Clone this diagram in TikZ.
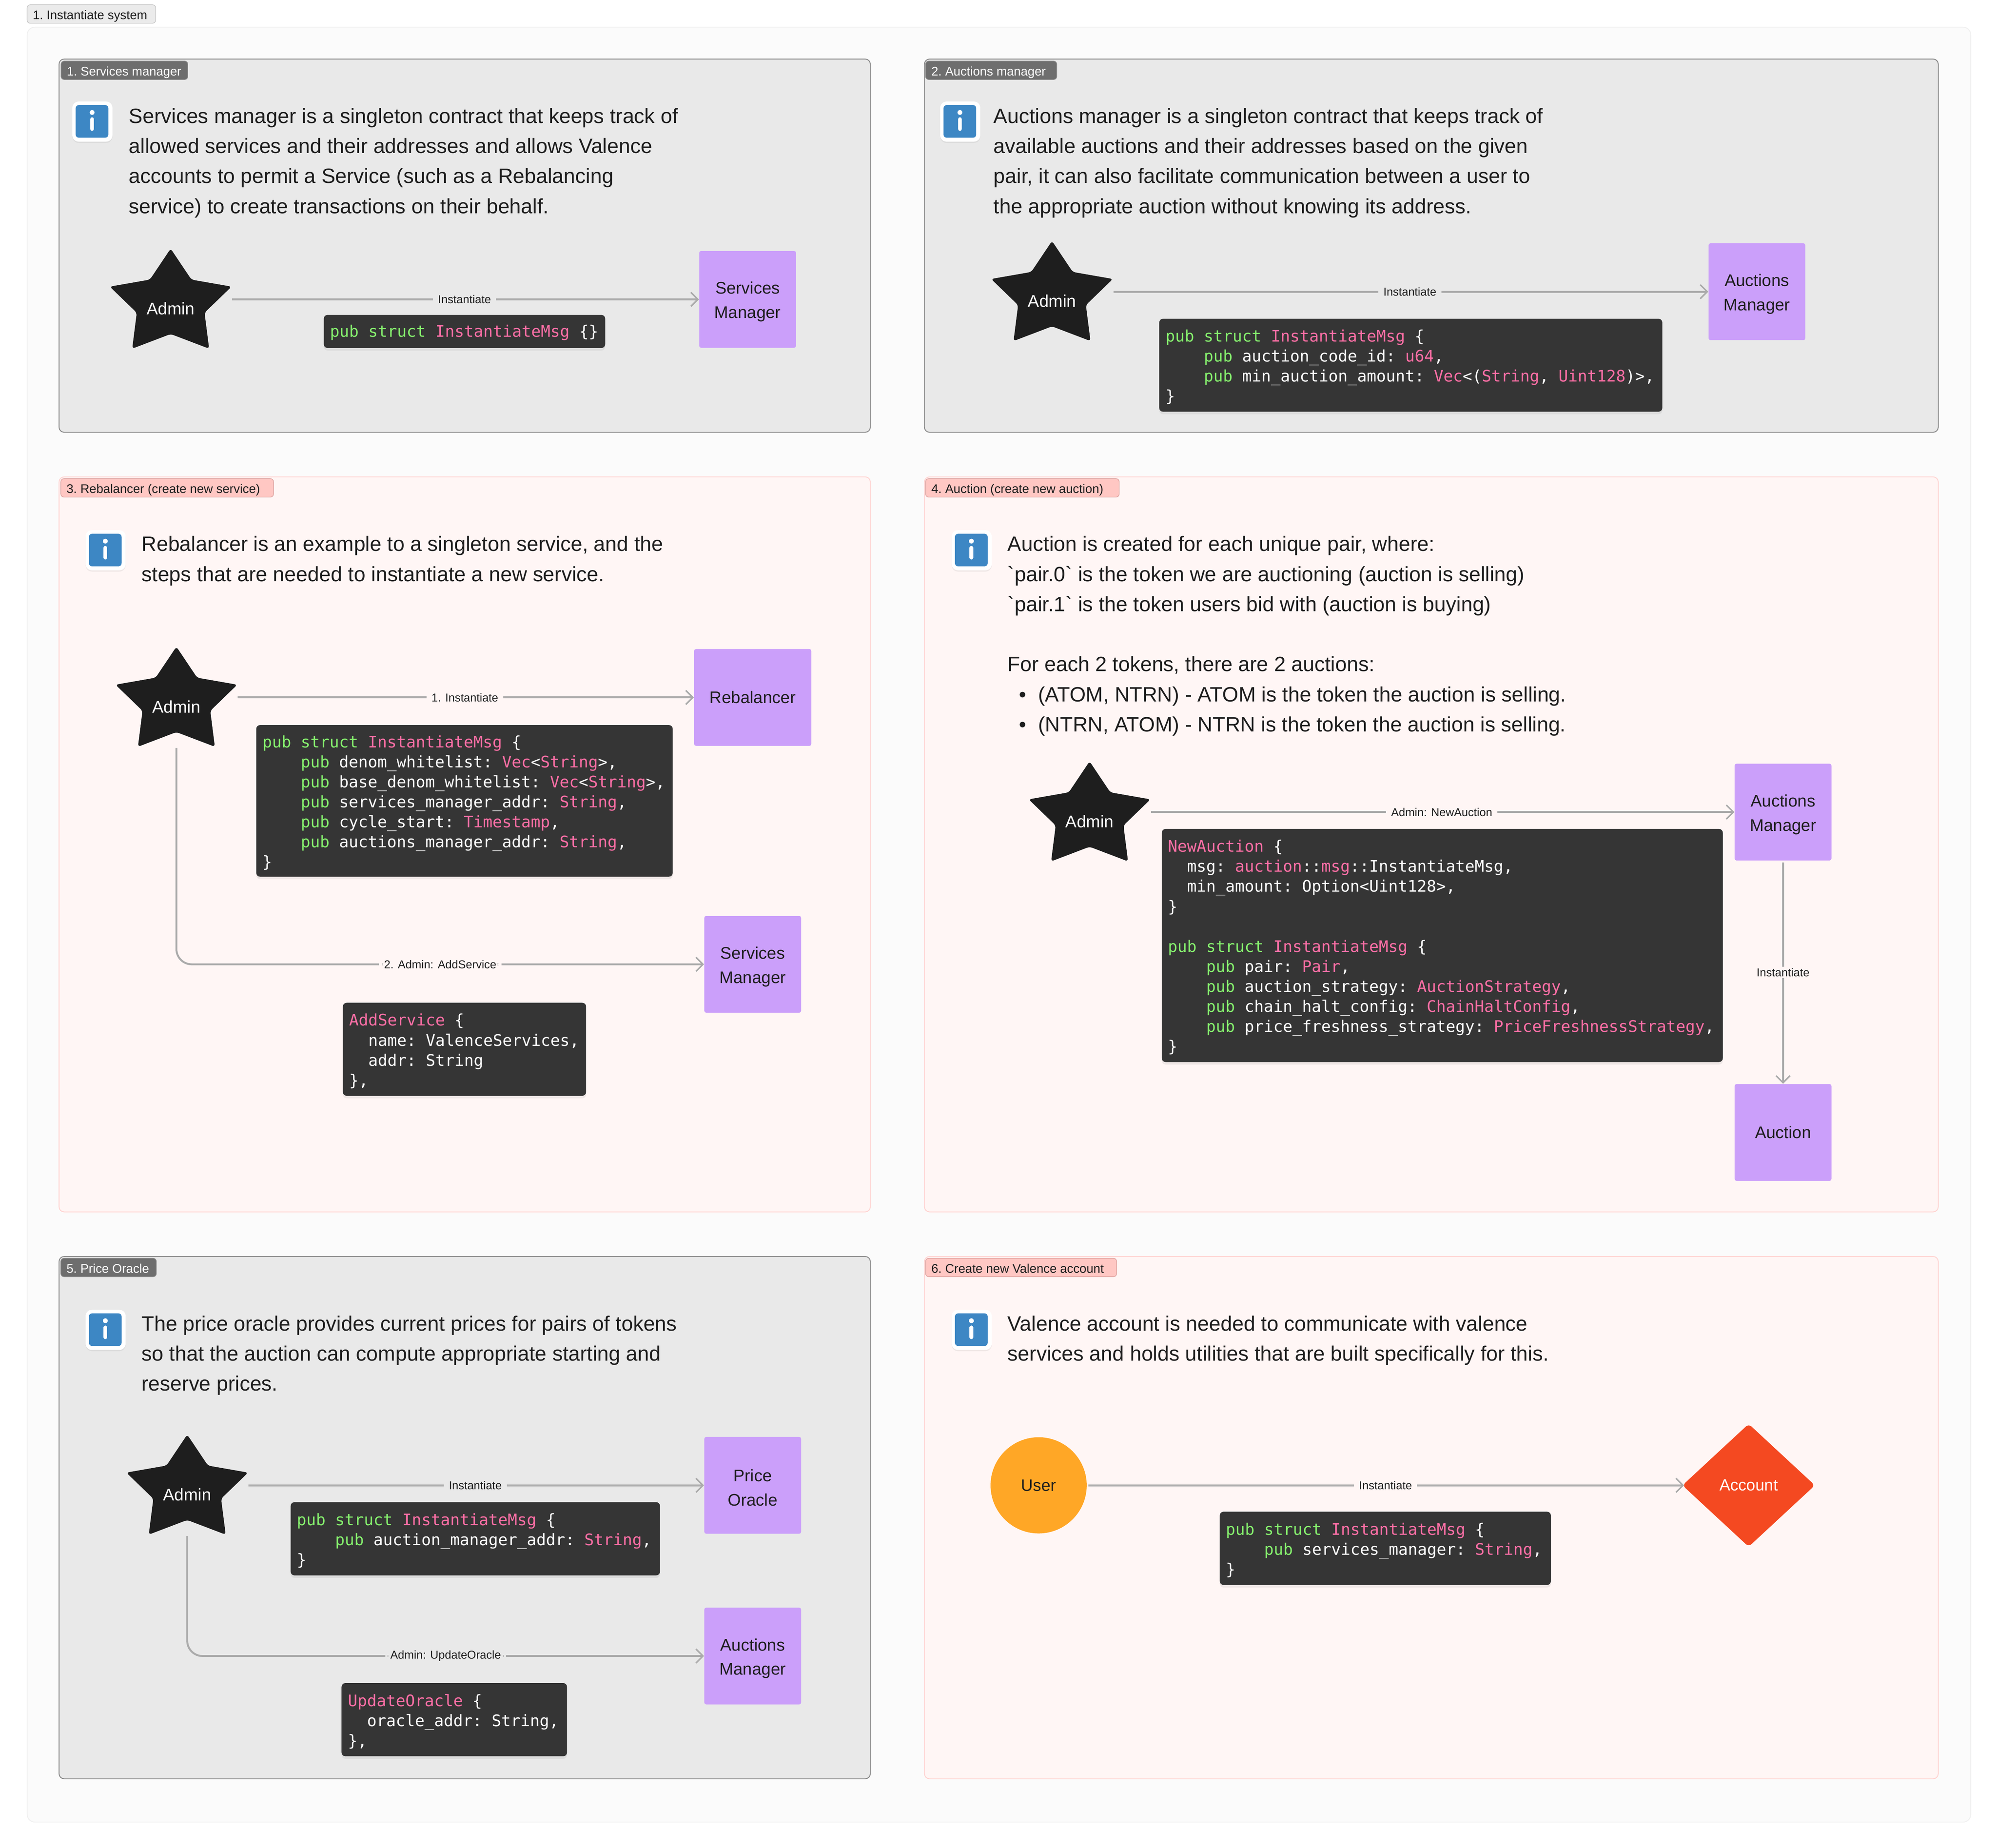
\documentclass[tikz,border=0pt]{standalone}
\usepackage{fontspec}
\usetikzlibrary{arrows.meta,shapes.geometric,shadows}
\newfontfamily\uifont{Liberation Sans}
\newfontfamily\codefont{DejaVu Sans Mono}
\definecolor{grayp}{HTML}{E9E9E9}
\definecolor{grayb}{HTML}{8A8A8A}
\definecolor{pinkp}{HTML}{FFF6F5}
\definecolor{pinkb}{HTML}{FFD4D2}
\definecolor{outerp}{HTML}{FBFBFB}
\definecolor{outerb}{HTML}{F0F0F0}
\definecolor{purp}{HTML}{CB9FFA}
\definecolor{codebg}{HTML}{353535}
\definecolor{codeg}{HTML}{86F06E}
\definecolor{codep}{HTML}{FF6FA6}
\definecolor{linec}{HTML}{ABABAB}
\definecolor{starc}{HTML}{1E1E1E}
\definecolor{infob}{HTML}{3D87C4}
\definecolor{tagg}{HTML}{6E6E6E}
\definecolor{tagr}{HTML}{FFC7C3}
\definecolor{tagrb}{HTML}{DEA3A0}
\definecolor{inkc}{HTML}{1E1E1E}
\definecolor{usrc}{HTML}{FFA726}
\definecolor{acctc}{HTML}{F44921}
\newcommand\kwg[1]{\textcolor{codeg}{#1}}
\newcommand\kwp[1]{\textcolor{codep}{#1}}
\newcommand\bul{\makebox[24pt][l]{\hspace{9pt}•}}
\newcommand\codestyle{\codefont\fontsize{12.5}{15.7}\selectfont\frenchspacing}
\newcommand\cstart{\rule{0pt}{15pt}}
\tikzset{
  x=1pt,y=-1pt,
  panelgray/.style={draw=grayb,fill=grayp,line width=.7pt,rounded corners=4pt,anchor=north west,inner sep=0pt},
  panelpink/.style={draw=pinkb,fill=pinkp,line width=.7pt,rounded corners=4pt,anchor=north west,inner sep=0pt},
  tagbase/.style={rounded corners=2.5pt,line width=.5pt,anchor=north west,inner ysep=0pt,inner xsep=4.5pt,minimum height=14.5pt,
     font=\uifont\fontsize{9.8}{11}\selectfont\frenchspacing,align=flush left,text height=10pt,text depth=1.6pt},
  taggray/.style={tagbase,draw=grayb,fill=tagg,text=white},
  tagred/.style={tagbase,draw=tagrb,fill=tagr,text=inkc},
  bodytext/.style={anchor=north west,inner sep=0pt,align=left,text=inkc,font=\uifont\fontsize{16.3}{23.6}\selectfont},
  codebox/.style={fill=codebg,rounded corners=3pt,anchor=north west,inner xsep=5pt,inner ysep=0pt,align=flush left,text=white,
     font=\codestyle,drop shadow={shadow xshift=0pt,shadow yshift=-2pt,opacity=.12}},
  purpbox/.style={fill=purp,rounded corners=1.5pt,minimum width=76pt,minimum height=76pt,inner sep=0pt,align=center,text=inkc,
     font=\uifont\fontsize{13.2}{19}\selectfont},
  starnode/.style={minimum width=93pt,minimum height=76pt,inner sep=0pt,text=white,font=\uifont\fontsize{13.3}{17}\selectfont},
  conn/.style={draw=linec,line width=1.5pt,-{Straight Barb[length=5.5pt,width=11pt,line width=1.2pt]}},
  lab/.style={inner xsep=4pt,inner ysep=1pt,text=inkc,font=\uifont\fontsize{9}{11}\selectfont},
}
\newcommand\adminstar[3]{%
  \fill[starc,rounded corners=2.2pt,shift={(#2,#3)}]
    (0,-39.8) -- (16.3,-15.5) -- (47.8,-10) -- (26.6,10.5) -- (30.2,38.7) -- (0,27.2)
    -- (-30.2,38.7) -- (-26.6,10.5) -- (-47.8,-10) -- (-16.3,-15.5) -- cycle;
  \node[starnode] (#1) at (#2,#3) {\raisebox{-12pt}[0pt][0pt]{Admin}};}
\newcommand\infoicon[3]{%
  \node[fill=white,rounded corners=5pt,minimum width=31.5pt,minimum height=31.5pt,inner sep=0pt,anchor=north west,
    drop shadow={shadow xshift=0pt,shadow yshift=-1pt,opacity=.12}] (#1) at (#2,#3) {};
  \fill[infob,rounded corners=2.5pt,shift={(#2,#3)}] (2.8,3) rectangle (28.5,28.6);
  \fill[white,shift={(#2,#3)}] (15.7,8.8) circle (1.9pt);
  \draw[white,line width=2.9pt,line cap=round,shift={(#2,#3)}] (15.7,14) -- (15.7,21.8);}
\begin{document}
\begin{tikzpicture}
\useasboundingbox (0,0) rectangle (1568,1450.6);
\fill[white] (0,0) rectangle (1568,1450.6);
% outer frame
\node[draw=outerb,fill=outerp,line width=.7pt,rounded corners=6pt,anchor=north west,minimum width=1526pt,minimum height=1409pt,inner sep=0pt] (outer) at (21,21) {};
\node[tagbase,draw=black!22,fill=black!8,text=inkc,text width=92pt] (outertag) at (21,3.5) {\mbox{1. Instantiate system}};
% panels
\node[panelgray,minimum width=637pt,minimum height=293pt] (p1) at (46,46) {};
\node[panelgray,minimum width=796pt,minimum height=293pt] (p2) at (725.5,46) {};
\node[panelpink,minimum width=637pt,minimum height=577pt] (p3) at (46,374) {};
\node[panelpink,minimum width=796pt,minimum height=577pt] (p4) at (725.5,374) {};
\node[panelgray,minimum width=637pt,minimum height=410pt] (p5) at (46,986) {};
\node[panelpink,minimum width=796pt,minimum height=410pt] (p6) at (725.5,986) {};
\node[taggray,text width=90.5pt] (t1) at (47.7,47.7) {\mbox{1. Services manager}};
\node[taggray,text width=94pt] (t2) at (726.5,47.7) {\mbox{2. Auctions manager}};
\node[tagred,text width=158pt] (t3) at (47.5,375.5) {\mbox{3. Rebalancer (create new service)}};
\node[tagred,text width=143pt] (t4) at (726.5,375.5) {\mbox{4. Auction (create new auction)}};
\node[taggray,text width=66pt] (t5) at (47.5,987.5) {\mbox{5. Price Oracle}};
\node[tagred,text width=141pt] (t6) at (726.5,987.5) {\mbox{6. Create new Valence account}};
% icons
\infoicon{i1}{56.6}{79.5}
\infoicon{i2}{738}{79.5}
\infoicon{i3}{67}{416}
\infoicon{i4}{747}{416}
\infoicon{i5}{67}{1028}
\infoicon{i6}{747}{1028}
% text
\node[bodytext] (d1) at (101,80) {\strut Services manager is a singleton contract that keeps track of\\allowed services and their addresses and allows Valence\\accounts to permit a Service (such as a Rebalancing\\service) to create transactions on their behalf.};
\node[bodytext] (d2) at (780,80) {\strut Auctions manager is a singleton contract that keeps track of\\available auctions and their addresses based on the given\\pair, it can also facilitate communication between a user to\\the appropriate auction without knowing its address.};
\node[bodytext] (d3) at (111,416) {\strut Rebalancer is an example to a singleton service, and the\\steps that are needed to instantiate a new service.};
\node[bodytext] (d4) at (791,416) {\strut Auction is created for each unique pair, where:\\`pair.0` is the token we are auctioning (auction is selling)\\`pair.1` is the token users bid with (auction is buying)\\\strut\\For each 2 tokens, there are 2 auctions:\\\bul (ATOM, NTRN) - ATOM is the token the auction is selling.\\\bul (NTRN, ATOM) - NTRN is the token the auction is selling.};
\node[bodytext] (d5) at (111,1028) {\strut The price oracle provides current prices for pairs of tokens\\so that the auction can compute appropriate starting and\\reserve prices.};
\node[bodytext] (d6) at (791,1028) {\strut Valence account is needed to communicate with valence\\services and holds utilities that are built specifically for this.};
% panel 1
\node[purpbox] (sm1) at (587,235) {\strut Services\\Manager};
\adminstar{s1}{134}{235}
\draw[conn,shorten <=1.5pt] (s1.east) -- node[lab,fill=grayp] (l1) {Instantiate} (sm1.west);
\node[codebox,minimum width=221pt,minimum height=26pt,text width=211pt] (c1) at (254,247) {\rule{0pt}{11.5pt}\kwg{pub struct} \kwp{InstantiateMsg} \{\}};
% panel 2
\node[purpbox] (am2) at (1379.5,229) {\strut Auctions\\Manager};
\adminstar{s2}{826}{229}
\draw[conn,shorten <=1.5pt] (s2.east) -- node[lab,fill=grayp] (l2) {Instantiate} (am2.west);
\node[codebox,minimum width=395pt,minimum height=73pt,text width=385pt] (c2) at (910,250) {\cstart\kwg{pub struct} \kwp{InstantiateMsg} \{\\~~~~\kwg{pub} auction\_code\_id: \kwp{u64},\\~~~~\kwg{pub} min\_auction\_amount: \kwp{Vec}<(\kwp{String}, \kwp{Uint128})>,\\\}\strut};
% panel 3
\node[purpbox,minimum width=92pt] (rb) at (591,547.5) {Rebalancer};
\node[purpbox] (sm3) at (591,757) {\strut Services\\Manager};
\adminstar{s3}{138.5}{547.5}
\draw[conn,shorten <=1.5pt] (s3.east) -- node[lab,fill=pinkp] (l3a) {1. Instantiate} (rb.west);
\draw[conn,rounded corners=12pt,shorten <=1.5pt] (s3.south) |- node[pos=.75,lab,fill=pinkp] (l3b) {2. Admin: AddService} (sm3.west);
\node[codebox,minimum width=327pt,minimum height=119pt,text width=317pt] (c3a) at (201,569) {\cstart\kwg{pub struct} \kwp{InstantiateMsg} \{\\~~~~\kwg{pub} denom\_whitelist: \kwp{Vec}<\kwp{String}>,\\~~~~\kwg{pub} base\_denom\_whitelist: \kwp{Vec}<\kwp{String}>,\\~~~~\kwg{pub} services\_manager\_addr: \kwp{String},\\~~~~\kwg{pub} cycle\_start: \kwp{Timestamp},\\~~~~\kwg{pub} auctions\_manager\_addr: \kwp{String},\\\}\strut};
\node[codebox,minimum width=191pt,minimum height=73pt,text width=181pt] (c3b) at (269,787) {\cstart\kwp{AddService} \{\\~~name: ValenceServices,\\~~addr: String\\\},\strut};
% panel 4
\node[purpbox] (am4) at (1400,637.5) {\strut Auctions\\Manager};
\node[purpbox] (au4) at (1400,889) {Auction};
\adminstar{s4}{855.5}{637.5}
\draw[conn,shorten <=1.5pt] (s4.east) -- node[lab,fill=pinkp] (l4a) {Admin: NewAuction} (am4.west);
\draw[conn,shorten <=1.5pt] (am4.south) -- node[lab,fill=pinkp] (l4b) {Instantiate} (au4.north);
\node[codebox,minimum width=440.5pt,minimum height=183pt,text width=430.5pt] (c4) at (912,650.5) {\cstart\kwp{NewAuction} \{\\~~msg: \kwp{auction}::\kwp{msg}::InstantiateMsg,\\~~min\_amount: Option<Uint128>,\\\}\\\strut\\\kwg{pub struct} \kwp{InstantiateMsg} \{\\~~~~\kwg{pub} pair: \kwp{Pair},\\~~~~\kwg{pub} auction\_strategy: \kwp{AuctionStrategy},\\~~~~\kwg{pub} chain\_halt\_config: \kwp{ChainHaltConfig},\\~~~~\kwg{pub} price\_freshness\_strategy: \kwp{PriceFreshnessStrategy},\\\}\strut};
% panel 5
\node[purpbox] (po) at (591,1166) {\strut Price\\Oracle};
\node[purpbox] (am5) at (591,1300) {\strut Auctions\\Manager};
\adminstar{s5}{147}{1166}
\draw[conn,shorten <=1.5pt] (s5.east) -- node[lab,fill=grayp] (l5a) {Instantiate} (po.west);
\draw[conn,rounded corners=12pt,shorten <=1.5pt] (s5.south) |- node[pos=.75,lab,fill=grayp] (l5b) {Admin: UpdateOracle} (am5.west);
\node[codebox,minimum width=290pt,minimum height=57.5pt,text width=280pt] (c5a) at (228,1179) {\cstart\kwg{pub struct} \kwp{InstantiateMsg} \{\\~~~~\kwg{pub} auction\_manager\_addr: \kwp{String},\\\}\strut};
\node[codebox,minimum width=177pt,minimum height=57.5pt,text width=167pt] (c5b) at (268,1321) {\cstart\kwp{UpdateOracle} \{\\~~oracle\_addr: String,\\\},\strut};
% panel 6
\node[circle,fill=usrc,minimum size=75.5pt,inner sep=0pt,text=inkc,font=\uifont\fontsize{13}{17}\selectfont] (usr) at (815.5,1166) {User};
\fill[acctc,rounded corners=3pt] (1373,1117.8) -- (1425,1166) -- (1373,1214.2) -- (1321,1166) -- cycle;
\node[inner sep=0pt,text=white,font=\uifont\fontsize{12.7}{17}\selectfont,minimum width=101pt,minimum height=93pt] (acctl) at (1373,1166) {Account};
\draw[conn,shorten <=1pt] (usr.east) -- node[lab,fill=pinkp] (l6) {Instantiate} (acctl.west);
\node[codebox,minimum width=260pt,minimum height=57.5pt,text width=250pt] (c6) at (957.5,1186.5) {\cstart\kwg{pub struct} \kwp{InstantiateMsg} \{\\~~~~\kwg{pub} services\_manager: \kwp{String},\\\}\strut};
\end{tikzpicture}
\end{document}
